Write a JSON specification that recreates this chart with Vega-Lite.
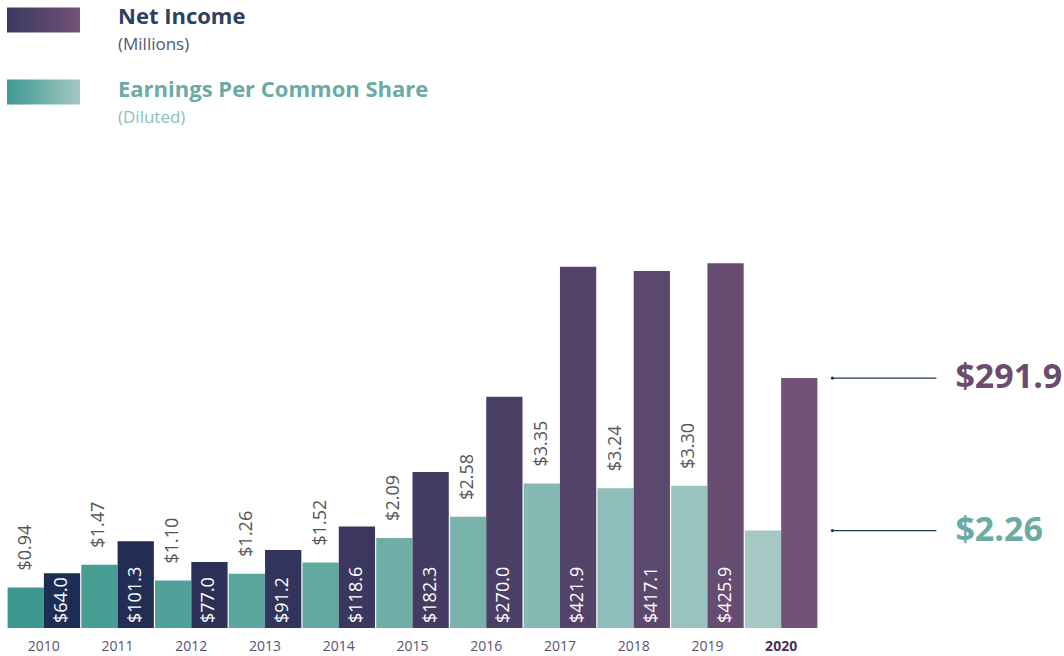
{
  "$schema": "https://vega.github.io/schema/vega-lite/v6.json",
  "padding": {"left": 7, "top": 0, "right": 0, "bottom": 0},
  "background": "white",
  "bounds": "flush",
  "spacing": 16,
  "config": {"view": {"stroke": null}, "font": "Open Sans"},
  "datasets": {
    "legend": [
      {"key": "NI", "name": "Net Income", "sub": "(Millions)"},
      {"key": "EPS", "name": "Earnings Per Common Share", "sub": "(Diluted)"}
    ],
    "fin": [
      {"year": "2010", "series": "EPS", "value": 0.94},
      {"year": "2011", "series": "EPS", "value": 1.47},
      {"year": "2012", "series": "EPS", "value": 1.10},
      {"year": "2013", "series": "EPS", "value": 1.26},
      {"year": "2014", "series": "EPS", "value": 1.52},
      {"year": "2015", "series": "EPS", "value": 2.09},
      {"year": "2016", "series": "EPS", "value": 2.58},
      {"year": "2017", "series": "EPS", "value": 3.35},
      {"year": "2018", "series": "EPS", "value": 3.24},
      {"year": "2019", "series": "EPS", "value": 3.30},
      {"year": "2020", "series": "EPS", "value": 2.26},
      {"year": "2010", "series": "NI", "value": 64.0},
      {"year": "2011", "series": "NI", "value": 101.3},
      {"year": "2012", "series": "NI", "value": 77.0},
      {"year": "2013", "series": "NI", "value": 91.2},
      {"year": "2014", "series": "NI", "value": 118.6},
      {"year": "2015", "series": "NI", "value": 182.3},
      {"year": "2016", "series": "NI", "value": 270.0},
      {"year": "2017", "series": "NI", "value": 421.9},
      {"year": "2018", "series": "NI", "value": 417.1},
      {"year": "2019", "series": "NI", "value": 425.9},
      {"year": "2020", "series": "NI", "value": 291.9}
    ]
  },
  "vconcat": [
    {
      "width": 73,
      "height": 112,
      "data": {"name": "legend"},
      "encoding": {
        "y": {"field": "name", "type": "nominal", "sort": null, "axis": null,
              "scale": {"paddingInner": 0.6528, "paddingOuter": 0.104}}
      },
      "layer": [
        {
          "transform": [{"filter": "datum.key == 'NI'"}],
          "mark": {"type": "bar", "color": {"gradient": "linear", "x1": 0, "x2": 1, "y1": 0, "y2": 0,
            "stops": [{"offset": 0, "color": "#393960"}, {"offset": 1, "color": "#745177"}]}}
        },
        {
          "transform": [{"filter": "datum.key == 'EPS'"}],
          "mark": {"type": "bar", "color": {"gradient": "linear", "x1": 0, "x2": 1, "y1": 0, "y2": 0,
            "stops": [{"offset": 0, "color": "#3d9a91"}, {"offset": 1, "color": "#a4c7c3"}]}}
        },
        {
          "mark": {"type": "text", "align": "left", "baseline": "alphabetic", "dx": 74.5, "dy": 4.5, "fontSize": 22, "fontWeight": "bold"},
          "encoding": {
            "text": {"field": "name"},
            "color": {"field": "key", "type": "nominal", "legend": null,
                      "scale": {"domain": ["NI", "EPS"], "range": ["#2e3f60", "#6aaba3"]}}
          }
        },
        {
          "mark": {"type": "text", "align": "left", "baseline": "alphabetic", "dx": 74.5, "dy": 30.5, "fontSize": 17},
          "encoding": {
            "text": {"field": "sub"},
            "color": {"field": "key", "type": "nominal", "legend": null,
                      "scale": {"domain": ["NI", "EPS"], "range": ["#4b5a78", "#8cc0ba"]}}
          }
        }
      ],
      "resolve": {"scale": {"color": "independent"}}
    },
    {
      "width": 811,
      "height": 500,
      "data": {"name": "fin"},
      "layer": [
        {
          "transform": [{"filter": "datum.series == 'EPS'"}],
          "encoding": {
            "x": {"field": "year", "type": "ordinal", "title": null,
                  "scale": {"paddingInner": 0.016, "paddingOuter": 0.008},
                  "axis": {"ticks": false, "domain": false, "grid": false, "labelAngle": 0,
                           "labelFontSize": 14, "labelPadding": 11, "labelFont": "Open Sans",
                           "labelColor": {"condition": {"test": "datum.value == '2020'", "value": "#4b2f55"}, "value": "#5d5070"},
                           "labelFontWeight": {"condition": {"test": "datum.value == '2020'", "value": "bold"}, "value": "normal"}}},
            "y": {"field": "value", "type": "quantitative", "axis": null,
                  "scale": {"domain": [0, 11.6], "nice": false, "zero": true}}
          },
          "layer": [
            {
              "mark": {"type": "bar"},
              "encoding": {
                "xOffset": {"field": "series", "type": "nominal", "scale": {"domain": ["EPS", "NI"], "paddingInner": 0, "paddingOuter": 0}},
                "color": {"field": "year", "type": "ordinal", "legend": null,
                          "scale": {"range": ["#3d9990", "#469d94", "#50a199", "#5aa59d", "#63a9a1", "#6eaea6", "#79b3ac", "#85b9b3", "#8fbdb9", "#9ac3bf", "#a5c8c5"]}}
              }
            },
            {
              "transform": [{"filter": "datum.year != '2020'"}],
              "mark": {"type": "text", "angle": 270, "align": "left", "baseline": "middle", "dx": 17, "fontSize": 18, "color": "#555555"},
              "encoding": {
                "xOffset": {"field": "series", "type": "nominal"},
                "text": {"field": "value", "type": "quantitative", "format": "$.2f"}
              }
            },
            {
              "transform": [{"filter": "datum.year == '2020'"}],
              "mark": {"type": "rule", "xOffset": 15, "x2Offset": 119, "color": "#1d3a5c", "strokeWidth": 1.2},
              "encoding": {
                "x": {"field": "year", "type": "ordinal", "bandPosition": 1},
                "x2": {"field": "year", "bandPosition": 1}
              }
            },
            {
              "transform": [{"filter": "datum.year == '2020'"}],
              "mark": {"type": "point", "filled": true, "size": 10, "xOffset": 15, "color": "#1d3a5c", "opacity": 1},
              "encoding": {
                "x": {"field": "year", "type": "ordinal", "bandPosition": 1}
              }
            },
            {
              "transform": [{"filter": "datum.year == '2020'"}],
              "mark": {"type": "text", "align": "left", "baseline": "middle", "dx": 138, "fontSize": 34, "fontWeight": "bold", "color": "#6aaba3"},
              "encoding": {
                "x": {"field": "year", "type": "ordinal", "bandPosition": 1},
                "text": {"field": "value", "type": "quantitative", "format": "$.2f"}
              }
            }
          ]
        },
        {
          "transform": [{"filter": "datum.series == 'NI'"}],
          "encoding": {
            "x": {"field": "year", "type": "ordinal", "title": null},
            "y": {"field": "value", "type": "quantitative", "axis": null,
                  "scale": {"domain": [0, 584], "nice": false, "zero": true}}
          },
          "layer": [
            {
              "mark": {"type": "bar"},
              "encoding": {
                "xOffset": {"field": "series", "type": "nominal"},
                "color": {"field": "year", "type": "ordinal", "legend": null,
                          "scale": {"range": ["#1c2d55", "#232e57", "#2d3159", "#33345b", "#3b375e", "#443b62", "#4a3f65", "#534369", "#5c476d", "#674c72", "#735277"]}}
              }
            },
            {
              "transform": [{"filter": "datum.year != '2020'"}],
              "mark": {"type": "text", "angle": 270, "align": "left", "baseline": "middle", "dx": 5, "fontSize": 18, "color": "white"},
              "encoding": {
                "xOffset": {"field": "series", "type": "nominal"},
                "y": {"datum": 0, "type": "quantitative"},
                "text": {"field": "value", "type": "quantitative", "format": "$.1f"}
              }
            },
            {
              "transform": [{"filter": "datum.year == '2020'"}],
              "mark": {"type": "rule", "xOffset": 15, "x2Offset": 119, "color": "#1d3a5c", "strokeWidth": 1.2},
              "encoding": {
                "x": {"field": "year", "type": "ordinal", "bandPosition": 1},
                "x2": {"field": "year", "bandPosition": 1}
              }
            },
            {
              "transform": [{"filter": "datum.year == '2020'"}],
              "mark": {"type": "point", "filled": true, "size": 10, "xOffset": 15, "color": "#1d3a5c", "opacity": 1},
              "encoding": {
                "x": {"field": "year", "type": "ordinal", "bandPosition": 1}
              }
            },
            {
              "transform": [{"filter": "datum.year == '2020'"}],
              "mark": {"type": "text", "align": "left", "baseline": "middle", "dx": 138, "fontSize": 34, "fontWeight": "bold", "color": "#6b4c6e"},
              "encoding": {
                "x": {"field": "year", "type": "ordinal", "bandPosition": 1},
                "text": {"field": "value", "type": "quantitative", "format": "$.1f"}
              }
            }
          ]
        }
      ],
      "resolve": {"scale": {"y": "independent", "color": "independent"}}
    }
  ]
}
